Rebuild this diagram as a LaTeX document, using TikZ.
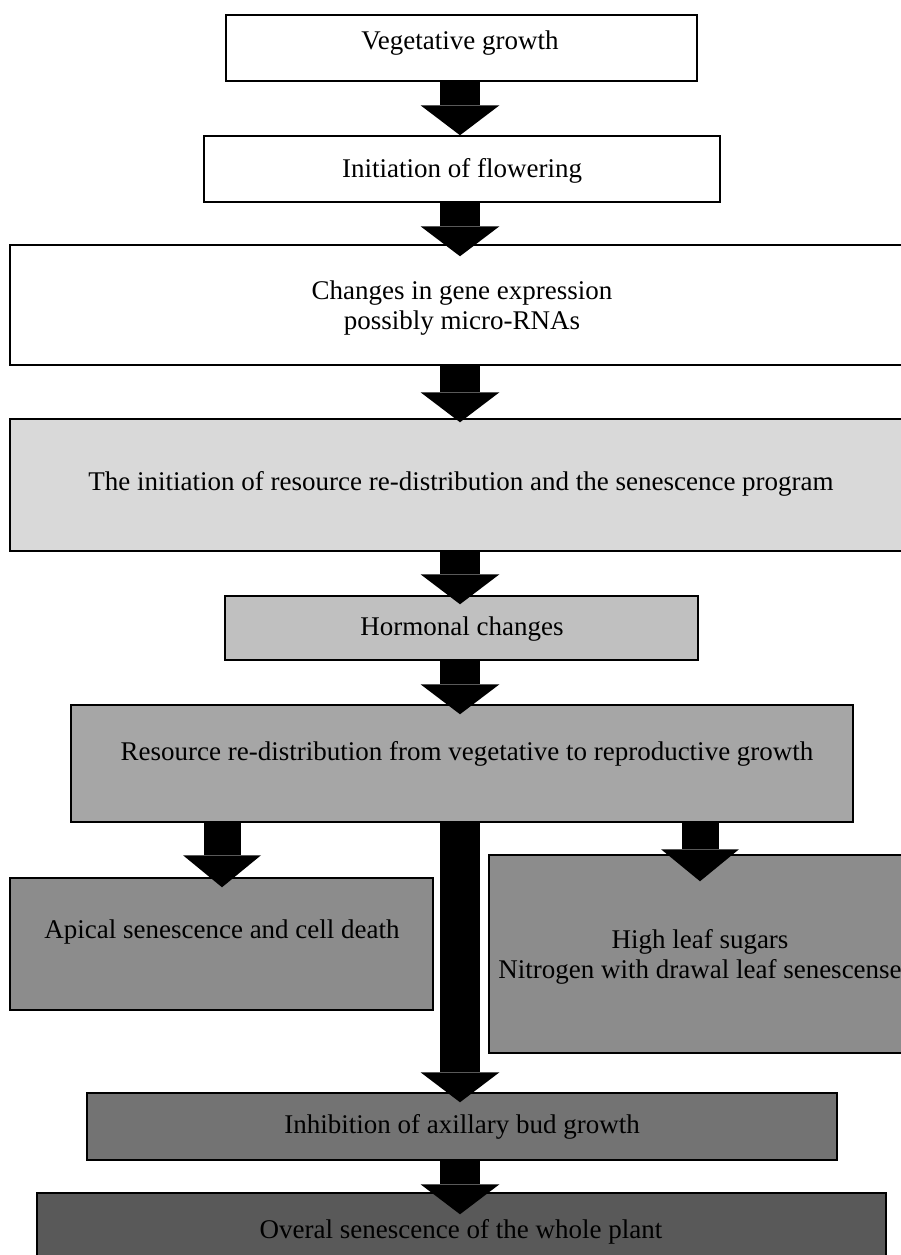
\documentclass[tikz,border=0pt]{standalone}
\usepackage{fontspec}
\setmainfont{Liberation Serif}
\usetikzlibrary{arrows.meta,fit,calc}
\definecolor{g1}{HTML}{D9D9D9}
\definecolor{g2}{HTML}{C0C0C0}
\definecolor{g3}{HTML}{A6A6A6}
\definecolor{g4}{HTML}{8C8C8C}
\definecolor{g5}{HTML}{737373}
\definecolor{g6}{HTML}{595959}
\begin{document}
\begin{tikzpicture}[x=1pt,y=-1pt,
  box/.style={draw=black, line width=1.5pt, inner sep=0pt},
  lbl/.style={font=\fontsize{27}{30}\selectfont, inner sep=0pt, align=center},
  bigarrow/.style={line width=40pt, -{Triangle[width=79pt,length=30pt,line width=0pt]}},
  midarrow/.style={line width=37pt, -{Triangle[width=78pt,length=32pt,line width=0pt]}},
]
\clip (0,0) rectangle (901,1255);
\fill[white] (0,0) rectangle (901,1255);
% boxes
\node[box, fill=white, fit={(226,15) (697,81)}] (b1) {};
\node[box, fill=white, fit={(204,136) (720,202)}] (b2) {};
\node[box, fill=white, fit={(10,245) (912,365)}] (b3) {};
\node[box, fill=g1, fit={(10,419) (912,551)}] (b4) {};
\node[box, fill=g2, fit={(225,596) (698,660)}] (b5) {};
\node[box, fill=g3, fit={(71,705) (853,822)}] (b6) {};
\node[box, fill=g4, fit={(10,878) (433,1010)}] (b7) {};
\node[box, fill=g4, fit={(489,855) (912,1053)}] (b8) {};
\node[box, fill=g5, fit={(87,1093) (837,1160)}] (b9) {};
\node[box, fill=g6, fit={(37,1193) (886,1275)}] (b10) {};
% texts
\node[lbl, anchor=base] (t1) at (460,50) {Vegetative growth};
\node[lbl, anchor=base] (t2) at (462,177) {Initiation of flowering};
\node[lbl] (t3) at (462,308) {Changes in gene expression\\possibly micro-RNAs};
\node[lbl, anchor=base] (t4) at (461,490) {The initiation of resource re-distribution and the senescence program};
\node[lbl, anchor=base] (t5) at (462,635) {Hormonal changes};
\node[lbl, anchor=base] (t6) at (467,760) {Resource re-distribution from vegetative to reproductive growth};
\node[lbl, anchor=base] (t7) at (222,938) {Apical senescence and cell death};
\node[lbl] (t8) at (700,957) {High leaf sugars\\Nitrogen with drawal leaf senescense};
\node[lbl, anchor=base] (t9) at (462,1133) {Inhibition of axillary bud growth};
\node[lbl, anchor=base] (t10) at (461,1238) {Overal senescence of the whole plant};
% arrow columns
\coordinate (ax) at (460,0);
\coordinate (lx) at (222,0);
\coordinate (rx) at (700,0);
% arrows
\draw[bigarrow] (b1.south -| ax) -- (b2.north -| ax);
\draw[bigarrow] (b2.south -| ax) -- ($(b3.north -| ax)+(0,12)$);
\draw[bigarrow] (b3.south -| ax) -- ($(b4.north -| ax)+(0,4)$);
\draw[bigarrow] (b4.south -| ax) -- ($(b5.north -| ax)+(0,9)$);
\draw[bigarrow] (b5.south -| ax) -- ($(b6.north -| ax)+(0,10)$);
\draw[midarrow] (b6.south -| lx) -- ($(b7.north -| lx)+(0,10)$);
\draw[midarrow] (b6.south -| rx) -- ($(b8.north -| rx)+(0,27)$);
\draw[bigarrow] (b6.south -| ax) -- ($(b9.north -| ax)+(0,10)$);
\draw[bigarrow] (b9.south -| ax) -- ($(b10.north -| ax)+(0,22)$);
\end{tikzpicture}
\end{document}
